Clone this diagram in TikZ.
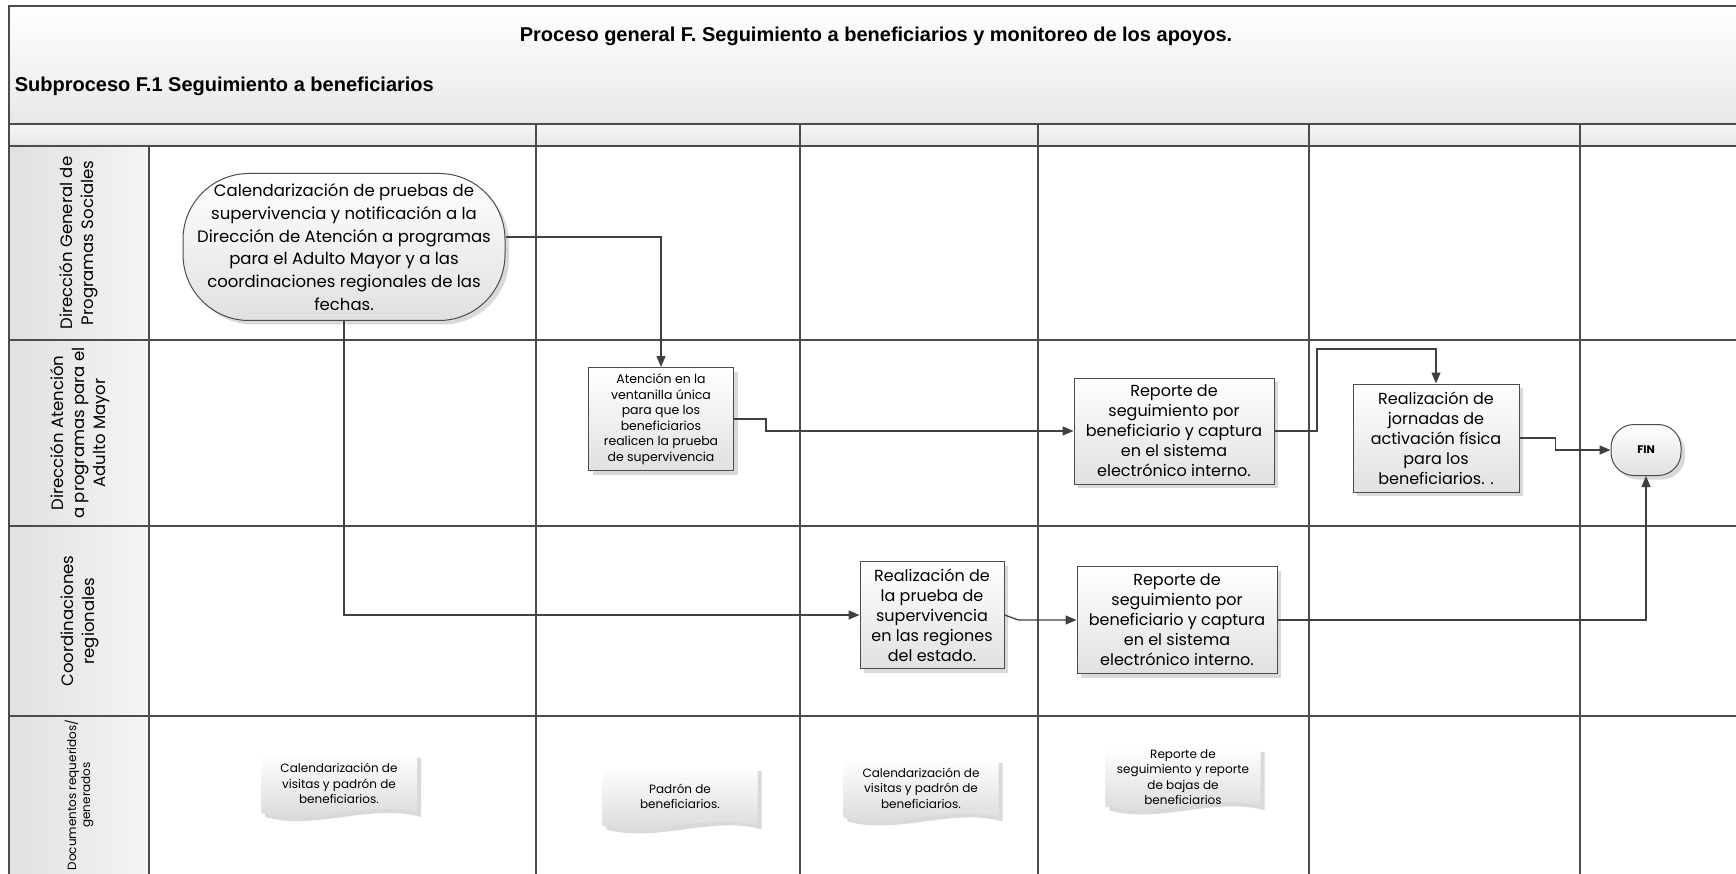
\documentclass[tikz,border=0pt]{standalone}
\usepackage{fontspec}
\setmainfont{Poppins}
\newfontfamily\titlefont{Liberation Sans}
\usetikzlibrary{shadows,arrows.meta}
\pgfdeclarelayer{background}
\pgfsetlayers{background,main}

\tikzset{
  grid/.style={line width=1.6pt, draw=black!70},
  softshadow/.style={drop shadow={opacity=0.3, shadow xshift=4pt, shadow yshift=-4pt}},
  proc/.style={draw=black!70, line width=1pt, top color=white, bottom color=black!12,
    softshadow, align=center, inner sep=1pt},
  doc/.style={align=center, font=\fontsize{12}{15.5}\selectfont, minimum width=155pt,
    minimum height=58pt, inner sep=0pt, anchor=north},
  paper/.style={top color=white, bottom color=black!16, softshadow},
  lane/.style={rotate=90, align=center, font=\fontsize{16.5}{21}\selectfont},
  flow/.style={draw=black!75, line width=1.3pt, -{Triangle[length=11pt,width=9pt]}},
  headfont/.style={font=\titlefont\bfseries\fontsize{20}{23}\selectfont}
}

% document shape drawn under a named text node
\newcommand{\paperbehind}[1]{%
  \begin{pgfonlayer}{background}
  \path[paper] (#1.north west) -- (#1.north east) -- (#1.south east)
    .. controls +(-50,-14) and +(50,14) .. (#1.south west) -- cycle;
  \end{pgfonlayer}}

\begin{document}
\begin{tikzpicture}[x=1pt, y=-1pt, line width=1pt]
\useasboundingbox (0,0) rectangle (1736,874);
\clip (0,0) rectangle (1736,874);
% bands
\shade[top color=white, bottom color=black!9] (9,6) rectangle (1740,124);
\shade[top color=black!3, bottom color=black!10] (9,124) rectangle (1740,146);
\shade[left color=black!12, right color=black!4] (9,146) rectangle (149,880);
% frame, lanes and columns
\draw[grid] (9,880) -- (9,6) -- (1740,6);
\draw[grid] (9,124) -- (1740,124);
\foreach \y in {146,340,526,716} \draw[grid] (9,\y) -- (1740,\y);
\draw[grid] (149,146) -- (149,880);
\foreach \x in {536,800,1038,1309,1580} \draw[grid] (\x,124) -- (\x,880);

% titles
\node[headfont] (title) at (876,36) {Proceso general F. Seguimiento a beneficiarios y monitoreo de los apoyos.};
\node[headfont, anchor=west] (subtitle) at (11,86) {Subproceso F.1 Seguimiento a beneficiarios};

% lane labels
\node[lane] (lanedg) at (79,243) {Dirección General de\\ Programas Sociales};
\node[lane] (laneda) at (80,433) {Dirección  Atención\\ a programas para el\\ Adulto Mayor};
\node[lane] (lanecr) at (80,621) {Coordinaciones\\ regionales};
\node[lane, font=\fontsize{12}{14}\selectfont] (lanedoc) at (79,795) {Documentos requeridos/\\ generados};

% process shapes
\node[proc, rounded corners=66pt, minimum width=322pt, minimum height=147pt,
  font=\fontsize{16.5}{22.8}\selectfont] (calend) at (344,247)
  {Calendarización de pruebas de\\ supervivencia y notificación a la\\ Dirección de Atención a programas\\ para el Adulto Mayor y  a las\\ coordinaciones regionales de las\\ fechas.};
\node[proc, minimum width=145pt, minimum height=103pt,
  font=\fontsize{12.5}{15.5}\selectfont] (ventanilla) at (661,419)
  {Atención en la\\ ventanilla única\\ para que los\\ beneficiarios\\ realicen la prueba\\ de supervivencia};
\node[proc, minimum width=200pt, minimum height=106pt,
  font=\fontsize{16}{20}\selectfont] (reporteda) at (1174,431)
  {Reporte de\\ seguimiento por\\ beneficiario y captura\\ en el sistema\\ electrónico interno.};
\node[proc, minimum width=166pt, minimum height=108pt,
  font=\fontsize{16}{20}\selectfont] (jornadas) at (1436,438)
  {Realización de\\ jornadas de\\ activación física\\ para los\\ beneficiarios. .};
\node[proc, rounded corners=23pt, minimum width=70pt, minimum height=51pt,
  font=\fontsize{11}{13}\selectfont\bfseries] (fin) at (1646,450) {FIN};
\node[proc, minimum width=144pt, minimum height=107pt,
  font=\fontsize{16}{20}\selectfont] (prueba) at (932,615)
  {Realización de\\ la prueba de\\ supervivencia\\ en las regiones\\ del estado.};
\node[proc, minimum width=200pt, minimum height=107pt,
  font=\fontsize{16}{20}\selectfont] (reportecr) at (1177,620)
  {Reporte de\\ seguimiento por\\ beneficiario y captura\\ en el sistema\\ electrónico interno.};

% documents
\node[doc] (docvisitas) at (339,754) {Calendarización de\\ visitas y padrón de\\ beneficiarios.};
\paperbehind{docvisitas}
\node[doc] (docpadron) at (680,767) {Padrón de\\ beneficiarios.};
\paperbehind{docpadron}
\node[doc] (docvisitasb) at (921,759) {Calendarización de\\ visitas y padrón de\\ beneficiarios.};
\paperbehind{docvisitasb}
\node[doc] (docbajas) at (1183,748) {Reporte de\\ seguimiento y reporte\\ de  bajas de\\ beneficiarios};
\paperbehind{docbajas}

% connectors
\coordinate (upbend) at (1317,349);
\draw[flow] ([yshift=10pt]calend.east) -| (ventanilla.north);
\draw[flow] (calend.south) |- (prueba.west);
\draw[flow] (ventanilla.east) -- ++(32,0) |- (reporteda.west);
\draw[flow] (reporteda.east) -| (upbend) -| (jornadas.north);
\draw[flow] (jornadas.east) -- ++(36,0) |- (fin.west);
\draw[flow] (prueba.east) -- ++(14,5) -- (reportecr.west);
\draw[flow] (reportecr.east) -| (fin.south);
\end{tikzpicture}
\end{document}
